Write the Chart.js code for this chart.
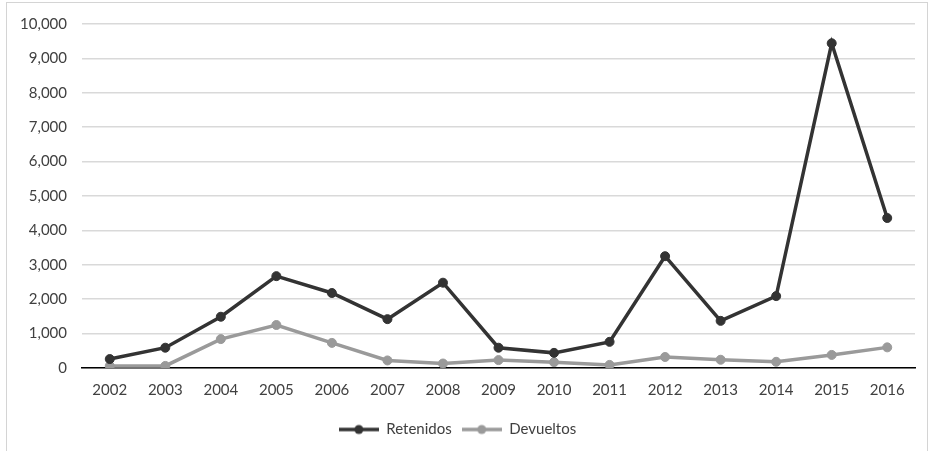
<!DOCTYPE html>
<html lang="es">
<head>
    <meta charset="UTF-8">
    <title>Retenidos y Devueltos</title>
    <script src="https://cdn.jsdelivr.net/npm/chart.js"></script>
    <style>
        body { margin: 0; background: #fff; }
        .frame {
            position: absolute;
            left: 6px; top: 2px;
            width: 922px; height: 452px;
            border: 1px solid #d4d4d4;
            box-sizing: border-box;
        }
        .wrap { position: absolute; left: 0; top: 0; width: 934px; height: 451px; }
    </style>
</head>
<body>
<div class="frame"></div>
<div class="wrap"><canvas id="chart" width="934" height="451"></canvas></div>

<script>
    // data
    const years = ["2002", "2003", "2004", "2005", "2006", "2007", "2008", "2009",
                   "2010", "2011", "2012", "2013", "2014", "2015", "2016"];
    const retenidos = [260, 590, 1490, 2670, 2180, 1420, 2480, 590, 440, 760, 3250, 1370, 2090, 9440, 4360];
    const devueltos = [60, 60, 840, 1250, 730, 220, 130, 230, 170, 90, 320, 240, 180, 380, 600];
    const yTicks = [0, 1000, 2000, 3000, 4000, 5000, 6000, 7000, 8000, 9000, 10000];

    const FONT = "Lato, 'Open Sans', sans-serif";

    // legend marker: short line with a dot in the middle (Excel style)
    function marker(color) {
        const c = document.createElement("canvas");
        c.width = 40; c.height = 12;
        const ctx = c.getContext("2d");
        ctx.strokeStyle = color;
        ctx.lineWidth = 3.5;
        ctx.beginPath(); ctx.moveTo(0, 6); ctx.lineTo(40, 6); ctx.stroke();
        ctx.fillStyle = color;
        ctx.beginPath(); ctx.arc(20, 6, 4.5, 0, Math.PI * 2); ctx.fill();
        return c;
    }

    const dark = "#333333";
    const light = "#9a9a9a";

    new Chart(document.getElementById("chart"), {
        type: "line",
        data: {
            labels: years,
            datasets: [
                {
                    label: "Retenidos",
                    data: retenidos,
                    borderColor: dark,
                    backgroundColor: dark,
                    borderWidth: 3.5,
                    pointRadius: 4.5,
                    pointBorderWidth: 1,
                    tension: 0
                },
                {
                    label: "Devueltos",
                    data: devueltos,
                    borderColor: light,
                    backgroundColor: light,
                    borderWidth: 3.5,
                    pointRadius: 4.5,
                    pointBorderWidth: 1,
                    tension: 0
                }
            ]
        },
        options: {
            responsive: false,
            animation: false,
            layout: { padding: { left: 0, right: 19, top: 16, bottom: 4 } },
            plugins: {
                tooltip: { enabled: false },
                legend: {
                    position: "bottom",
                    labels: {
                        font: { family: FONT, size: 15 },
                        color: "#404040",
                        padding: 10,
                        usePointStyle: true,
                        pointStyleWidth: 40,
                        generateLabels: function (chart) {
                            return chart.data.datasets.map(function (ds, i) {
                                return {
                                    text: ds.label,
                                    pointStyle: marker(ds.borderColor),
                                    fillStyle: ds.borderColor,
                                    strokeStyle: ds.borderColor,
                                    lineWidth: 0,
                                    datasetIndex: i,
                                    fontColor: "#404040"
                                };
                            });
                        }
                    }
                }
            },
            scales: {
                x: {
                    offset: true,
                    grid: { display: false, drawTicks: false },
                    border: { color: "#000000", width: 1.5 },
                    ticks: { font: { family: FONT, size: 15 }, color: "#404040", padding: 13 }
                },
                y: {
                    min: 0,
                    max: 10000,
                    afterBuildTicks: function (axis) {
                        axis.ticks = yTicks.map(v => ({ value: v }));
                    },
                    afterFit: function (axis) { axis.width = 82; },
                    grid: { color: "#d9d9d9", lineWidth: 1.5, drawTicks: false },
                    border: { display: false },
                    ticks: {
                        font: { family: FONT, size: 15 },
                        color: "#404040",
                        padding: 15,
                        callback: v => v.toLocaleString("en-US")
                    }
                }
            }
        }
    });
</script>
</body>
</html>
